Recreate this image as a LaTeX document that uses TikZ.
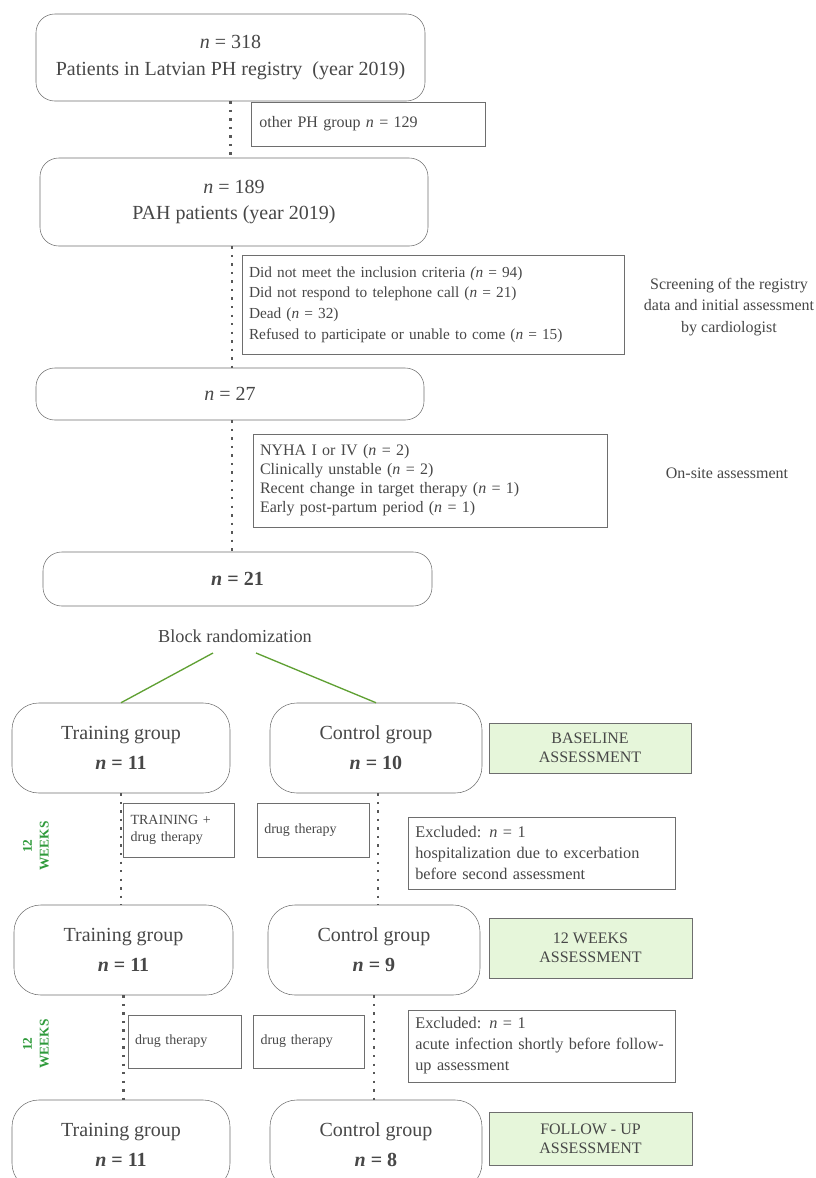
\documentclass[tikz,border=0pt]{standalone}
\usepackage{amsmath}
\usepackage{xcolor}
\usepackage{fontspec}
\setmainfont{Liberation Serif}
\usepackage{tikz}

\definecolor{edge}{HTML}{6E6E6E}
\definecolor{ink}{HTML}{474747}
\definecolor{leaf}{HTML}{5FA033}
\definecolor{weekgreen}{HTML}{2E9A3A}
\definecolor{paleg}{HTML}{E6F6DA}

\begin{document}
\begin{tikzpicture}[x=0.75pt,y=-0.75pt,
  roundbox/.style={draw=edge,rounded corners=14pt,text=ink,align=center,inner sep=0pt},
  note/.style={draw=edge,text=ink,align=left,inner sep=5pt,font=\fontsize{11.5}{14}\selectfont},
  stage/.style={draw=edge,fill=paleg,text=ink,align=center,inner sep=0pt,font=\fontsize{12}{14.5}\selectfont},
  plain/.style={text=ink,align=center,font=\fontsize{12}{16}\selectfont},
  dots/.style={edge!80!black,line width=1.8pt,dash pattern=on 1.8pt off 4.6pt},
  split/.style={leaf,line width=1pt},
  weeks/.style={text=weekgreen,rotate=90,align=center,inner sep=0pt,font=\fontsize{10}{12.5}\selectfont\bfseries}]
\useasboundingbox (0,0) rectangle (816,1178);

% registry and screening
\node[roundbox,minimum width=291.75pt,minimum height=65.25pt,font=\fontsize{15}{20}\selectfont] (reg) at (230.5,57.5)
  {\textit{n} = 318\\Patients in Latvian PH registry\ \ (year 2019)};
\node[note,minimum width=175.5pt,minimum height=33pt,text width=163pt,font=\fontsize{12}{14}\selectfont] (other) at (368,124)
  {other PH group \textit{n} = 129};
\node[roundbox,minimum width=291pt,minimum height=66pt,font=\fontsize{15}{20}\selectfont] (pah) at (234,202)
  {\textit{n} = 189\\PAH patients (year 2019)};
\node[note,minimum width=286.5pt,minimum height=74.25pt,text width=276pt,font=\fontsize{11.5}{15.5}\selectfont] (excl) at (433,304.5)
  {Did not meet the inclusion criteria \textit{(n} = 94)\\
   Did not respond to telephone call (\textit{n} = 21)\\
   Dead (\textit{n} = 32)\\
   Refused to participate or unable to come (\textit{n} = 15)};
\node[plain] (scr) at (729,307) {Screening of the registry\\data and initial assessment\\by cardiologist};
\node[roundbox,minimum width=291pt,minimum height=39pt,font=\fontsize{15}{20}\selectfont] (n27) at (230,394) {\textit{n} = 27};

% on-site assessment
\node[note,minimum width=265.5pt,minimum height=69.75pt,text width=255pt,font=\fontsize{12}{14.25}\selectfont] (nyha) at (430,480.5)
  {NYHA I or IV (\textit{n} = 2)\\
   Clinically unstable (\textit{n} = 2)\\
   Recent change in target therapy (\textit{n} = 1)\\
   Early post-partum period (\textit{n} = 1)};
\node[plain] (site) at (727,473) {On-site assessment};
\node[roundbox,minimum width=291.75pt,minimum height=40.5pt,font=\fontsize{15}{20}\selectfont\bfseries] (n21) at (237.5,579) {\textit{n} = 21};

\draw[dots] (reg.south) -- (reg.south |- pah.north);
\draw[dots] ([xshift=-1.5pt]pah.south) -- ([xshift=-1.5pt]pah.south |- n27.north);
\draw[dots] ([xshift=1.5pt]n27.south) -- ([xshift=1.5pt]n27.south |- n21.north);

% randomization
\node[text=ink,font=\fontsize{13.7}{14}\selectfont] (block) at (235,636) {Block randomization};
\coordinate (bl) at (213,653);
\coordinate (br) at (256,653);

\node[roundbox,rounded corners=20pt,minimum width=163.5pt,minimum height=67.5pt,font=\fontsize{15}{22.5}\selectfont] (tg1) at (121,748)
  {Training group\\\textbf{\textit{n} = 11}};
\node[roundbox,rounded corners=20pt,minimum width=159pt,minimum height=67.5pt,font=\fontsize{15}{22.5}\selectfont] (cg1) at (376,748)
  {Control group\\\textbf{\textit{n} = 10}};
\node[stage,minimum width=151.5pt,minimum height=37.5pt] (base) at (590,748) {BASELINE\\ASSESSMENT};
\draw[split] (bl) -- (tg1.north);
\draw[split] (br) -- (cg1.north);

% first 12 weeks
\node[weeks] (wk1) at (36,846) {12\\WEEKS};
\node[note,minimum width=83.25pt,minimum height=40.5pt,text width=72pt,inner sep=5pt,font=\fontsize{10.5}{12.5}\selectfont] (train) at (178.5,830)
  {TRAINING +\\drug therapy};
\node[note,minimum width=84pt,minimum height=40.5pt,text width=73pt,font=\fontsize{10.5}{12.5}\selectfont] (drug1) at (313,830) {drug therapy};
\node[note,minimum width=199.5pt,minimum height=54pt,text width=190pt,font=\fontsize{12.2}{15.75}\selectfont] (out1) at (542,853)
  {Excluded: \textit{n} = 1\\hospitalization due to excerbation\\before second assessment};

\node[roundbox,rounded corners=20pt,minimum width=164.25pt,minimum height=67.5pt,font=\fontsize{15}{22.5}\selectfont] (tg2) at (123.5,950)
  {Training group\\\textbf{\textit{n} = 11}};
\node[roundbox,rounded corners=20pt,minimum width=159pt,minimum height=67.5pt,font=\fontsize{15}{22.5}\selectfont] (cg2) at (374,950)
  {Control group\\\textbf{\textit{n} = 9}};
\node[stage,minimum width=152.25pt,minimum height=45pt] (mid) at (590.5,948) {12 WEEKS\\ASSESSMENT};
\draw[dots] (tg1.south) -- (tg1.south |- tg2.north);
\draw[dots] ([xshift=1.5pt]cg1.south) -- ([xshift=1.5pt]cg1.south |- cg2.north);

% second 12 weeks
\node[weeks] (wk2) at (36,1044) {12\\WEEKS};
\node[note,minimum width=84.75pt,minimum height=39.75pt,text width=74pt,font=\fontsize{10.5}{12.5}\selectfont] (drug2) at (184.5,1041.5) {drug therapy};
\node[note,minimum width=83.25pt,minimum height=39.75pt,text width=72pt,font=\fontsize{10.5}{12.5}\selectfont] (drug3) at (308.5,1041.5) {drug therapy};
\node[note,minimum width=199.5pt,minimum height=54pt,text width=190pt,font=\fontsize{12.2}{15.75}\selectfont] (out2) at (542,1046)
  {Excluded: \textit{n} = 1\\acute infection shortly before follow-\\up assessment};

\node[roundbox,rounded corners=20pt,minimum width=163.5pt,minimum height=67.5pt,font=\fontsize{15}{22.5}\selectfont] (tg3) at (121,1145)
  {Training group\\\textbf{\textit{n} = 11}};
\node[roundbox,rounded corners=20pt,minimum width=159pt,minimum height=67.5pt,font=\fontsize{15}{22.5}\selectfont] (cg3) at (376,1145)
  {Control group\\\textbf{\textit{n} = 8}};
\node[stage,minimum width=152.25pt,minimum height=39.75pt] (fu) at (590.5,1138.5) {FOLLOW - UP\\ASSESSMENT};
\draw[dots] (tg2.south) -- (tg2.south |- tg3.north);
\draw[dots] (cg2.south) -- (cg2.south |- cg3.north);
\end{tikzpicture}
\end{document}
